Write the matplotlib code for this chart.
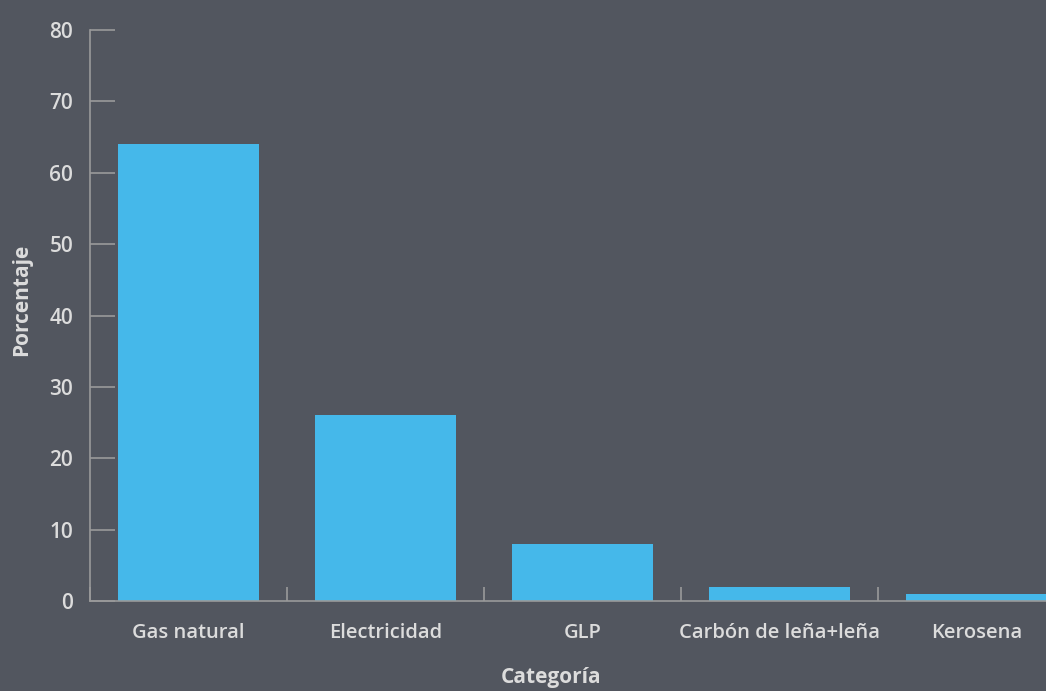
import matplotlib
matplotlib.use("Agg")
import matplotlib.pyplot as plt
import numpy as np

categorias = ["Gas natural", "Electricidad", "GLP", "Carbón de leña+leña", "Kerosena"]
porcentaje = [64, 26, 8, 2, 1]

BG = "#52565f"
BAR = "#45b8ea"
TXT = "#dcdcdc"
LINE = "#9a9a9a"

plt.rcParams['font.family'] = ['Open Sans', 'DejaVu Sans']

fig = plt.figure(figsize=(10.46, 6.91), dpi=100, facecolor=BG)
ax = fig.add_axes([90/1046, 1 - 601/691, 1 - 90/1046, (601 - 30)/691])
ax.set_facecolor(BG)

x = np.arange(len(categorias))
ax.bar(x, porcentaje, width=0.72, color=BAR, zorder=1)

for s in ["top", "right"]:
    ax.spines[s].set_visible(False)
for s in ["left", "bottom"]:
    ax.spines[s].set_color(LINE)
    ax.spines[s].set_linewidth(1.2)
    ax.spines[s].set_zorder(3)

ax.set_yticks(np.arange(0, 81, 10))
ax.tick_params(axis="y", direction="in", length=18, width=1.2, color=LINE,
               labelcolor=TXT, labelsize=15, pad=12)
for lab in ax.get_yticklabels():
    lab.set_fontweight("semibold")

ax.set_xticks(x)
ax.set_xticklabels(categorias)
ax.set_xticks(np.arange(-0.5, len(categorias) - 1, 1), minor=True)
ax.tick_params(axis="x", which="major", length=0, labelcolor=TXT, labelsize=14.5, pad=16)
ax.tick_params(axis="x", which="minor", direction="in", length=10, width=1.2, color=LINE)
for lab in ax.get_xticklabels():
    lab.set_fontweight("semibold")

ax.set_ylim(0, 80)
ax.set_xlim(-0.5, (1046 - 90)/197 - 0.5)

fig.text(22/1046, 1 - 300/691, "Porcentaje", rotation=90, color=TXT, fontsize=15,
         fontweight="bold", ha="center", va="center")
fig.text(551/1046, 1 - 677/691, "Categoría", color=TXT, fontsize=15,
         fontweight="bold", ha="center", va="center")

fig.savefig("out.png", dpi=100, facecolor=BG)
